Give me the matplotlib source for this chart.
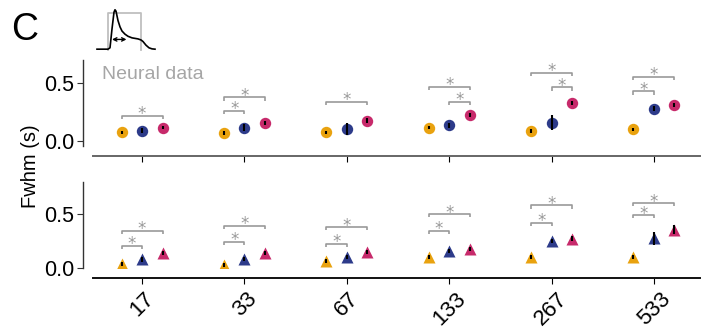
import matplotlib
matplotlib.use("Agg")
import matplotlib.pyplot as plt
import numpy as np

plt.rcParams['font.family'] = ['Liberation Sans', 'DejaVu Sans']

conditions = ['17', '33', '67', '133', '267', '533']
colors = ['#E9A20F', '#2D3B8A', '#C72A6B']

# neural data (top row), mean fwhm per condition and model
top_means = [
    [0.075, 0.07, 0.075, 0.115, 0.085, 0.10],
    [0.09, 0.115, 0.105, 0.135, 0.16, 0.28],
    [0.115, 0.155, 0.175, 0.225, 0.33, 0.31],
]
top_errs = [
    [0.015, 0.015, 0.015, 0.015, 0.015, 0.015],
    [0.02, 0.03, 0.05, 0.02, 0.065, 0.02],
    [0.015, 0.015, 0.02, 0.02, 0.02, 0.02],
]
# significance brackets: (condition index, first model, second model, height)
top_sig = [
    (0, 0, 2, 0.217),
    (1, 0, 2, 0.377), (1, 0, 1, 0.263),
    (2, 0, 2, 0.339),
    (3, 0, 2, 0.47), (3, 1, 2, 0.339),
    (4, 0, 2, 0.59), (4, 1, 2, 0.463),
    (5, 0, 2, 0.556), (5, 0, 1, 0.429),
]

bottom_means = [
    [0.034, 0.03, 0.068, 0.102, 0.10, 0.10],
    [0.081, 0.084, 0.10, 0.158, 0.25, 0.277],
    [0.142, 0.142, 0.146, 0.177, 0.273, 0.354],
]
bottom_errs = [
    [0.02, 0.02, 0.02, 0.02, 0.02, 0.02],
    [0.025, 0.02, 0.02, 0.02, 0.02, 0.06],
    [0.02, 0.02, 0.02, 0.02, 0.02, 0.04],
]
bottom_sig = [
    (0, 0, 2, 0.345), (0, 0, 1, 0.205),
    (1, 0, 2, 0.39), (1, 0, 1, 0.245),
    (2, 0, 2, 0.379), (2, 0, 1, 0.223),
    (3, 0, 2, 0.50), (3, 0, 1, 0.347),
    (4, 0, 2, 0.58), (4, 0, 1, 0.42),
    (5, 0, 2, 0.60), (5, 0, 1, 0.49),
]

# schematic response trace and stimulus for the inset
trace_t = [97, 108, 110, 112, 114, 115, 116, 118, 120, 122, 125, 128, 132, 138, 141, 143, 146, 149, 152, 155]
trace_v = [0.7, 0.7, 2, 20, 36, 38.3, 37, 28, 22, 18, 15, 13, 11.5, 10.5, 9.5, 8, 4.5, 2, 1, 0.7]
stim_t = [108, 108, 141, 141]
stim_v = [0, 35, 35, 0]

offsets = [-0.2, 0.0, 0.2]
W, H = 702, 328


def px_axes(x0, y0, x1, y1):
    return fig.add_axes([x0 / W, 1 - y1 / H, (x1 - x0) / W, (y1 - y0) / H])


def panel(ax, means, errs, sig, marker, ms, ylim, xspine_color):
    x = np.arange(len(conditions))
    for k in range(3):
        ax.plot(x + offsets[k], means[k], ls='none', marker=marker, ms=ms,
                color=colors[k], mec='none', zorder=3)
        ax.errorbar(x + offsets[k], means[k], yerr=errs[k], ls='none',
                    ecolor='black', elinewidth=1.5, capsize=0, zorder=4)
    leg = 0.028 * (ylim[1] - ylim[0]) / 0.75
    for ci, a, b, h in sig:
        xa, xb = ci + offsets[a], ci + offsets[b]
        ax.plot([xa, xa, xb, xb], [h - leg, h, h, h - leg], color='#999999', lw=1.2,
                solid_capstyle='butt', zorder=2)
        ax.annotate('*', ((xa + xb) / 2, h), xytext=(0, -2.5), textcoords='offset points',
                    color='#999999', fontsize=12, family='DejaVu Sans',
                    ha='center', va='baseline')
    ax.set_xlim(-0.48, 5.45)
    ax.set_ylim(*ylim)
    ax.set_yticks([0.0, 0.5])
    ax.set_xticks(x)
    for s in ['top', 'right']:
        ax.spines[s].set_visible(False)
    ax.spines['left'].set_position(('outward', 7.4))
    ax.spines['bottom'].set_position(('outward', 7.4))
    ax.spines['left'].set_color('#333333')
    ax.spines['bottom'].set_color(xspine_color)
    ax.spines['left'].set_linewidth(1.0)
    ax.spines['bottom'].set_linewidth(1.4)
    ax.tick_params(axis='y', labelsize=15.5, length=4, color='#333333', pad=2)
    ax.tick_params(axis='x', length=4)


fig = plt.figure(figsize=(W / 100, H / 100), dpi=100)

ax_top = px_axes(93, 60, 700, 145.7)
panel(ax_top, top_means, top_errs, top_sig, 'o', 8.2, (-0.04, 0.7), '#666666')
ax_top.set_xticklabels([])
ax_top.text(0.015, 0.93, 'Neural data', transform=ax_top.transAxes, color='#a6a6a6',
            fontsize=14, ha='left', va='top')

ax_bot = px_axes(93, 181.7, 700, 268)
panel(ax_bot, bottom_means, bottom_errs, bottom_sig, '^', 9.0, (0.0, 0.8), '#111111')
ax_bot.set_xticklabels(conditions, rotation=45, fontsize=16, ha='center')
ax_bot.tick_params(axis='x', pad=3)

fig.text(30 / W, 1 - 166 / H, 'Fwhm (s)', rotation=90, fontsize=14.5,
         ha='center', va='center')
fig.text(25 / W, 1 - 30 / H, 'C', fontsize=27, ha='center', va='center')

ax_in = px_axes(95, 8, 157, 52)
ax_in.plot(stim_t, stim_v, color='#bfbfbf', lw=1.3)
ax_in.plot(trace_t, trace_v, color='black', lw=1.2)
ax_in.annotate('', xy=(112, 10), xytext=(126.5, 10),
               arrowprops=dict(arrowstyle='<->', color='black', lw=1.0,
                               mutation_scale=6, shrinkA=0, shrinkB=0))
ax_in.set_xlim(95, 157)
ax_in.set_ylim(-2, 40)
ax_in.axis('off')

fig.savefig('out.png', dpi=100)
